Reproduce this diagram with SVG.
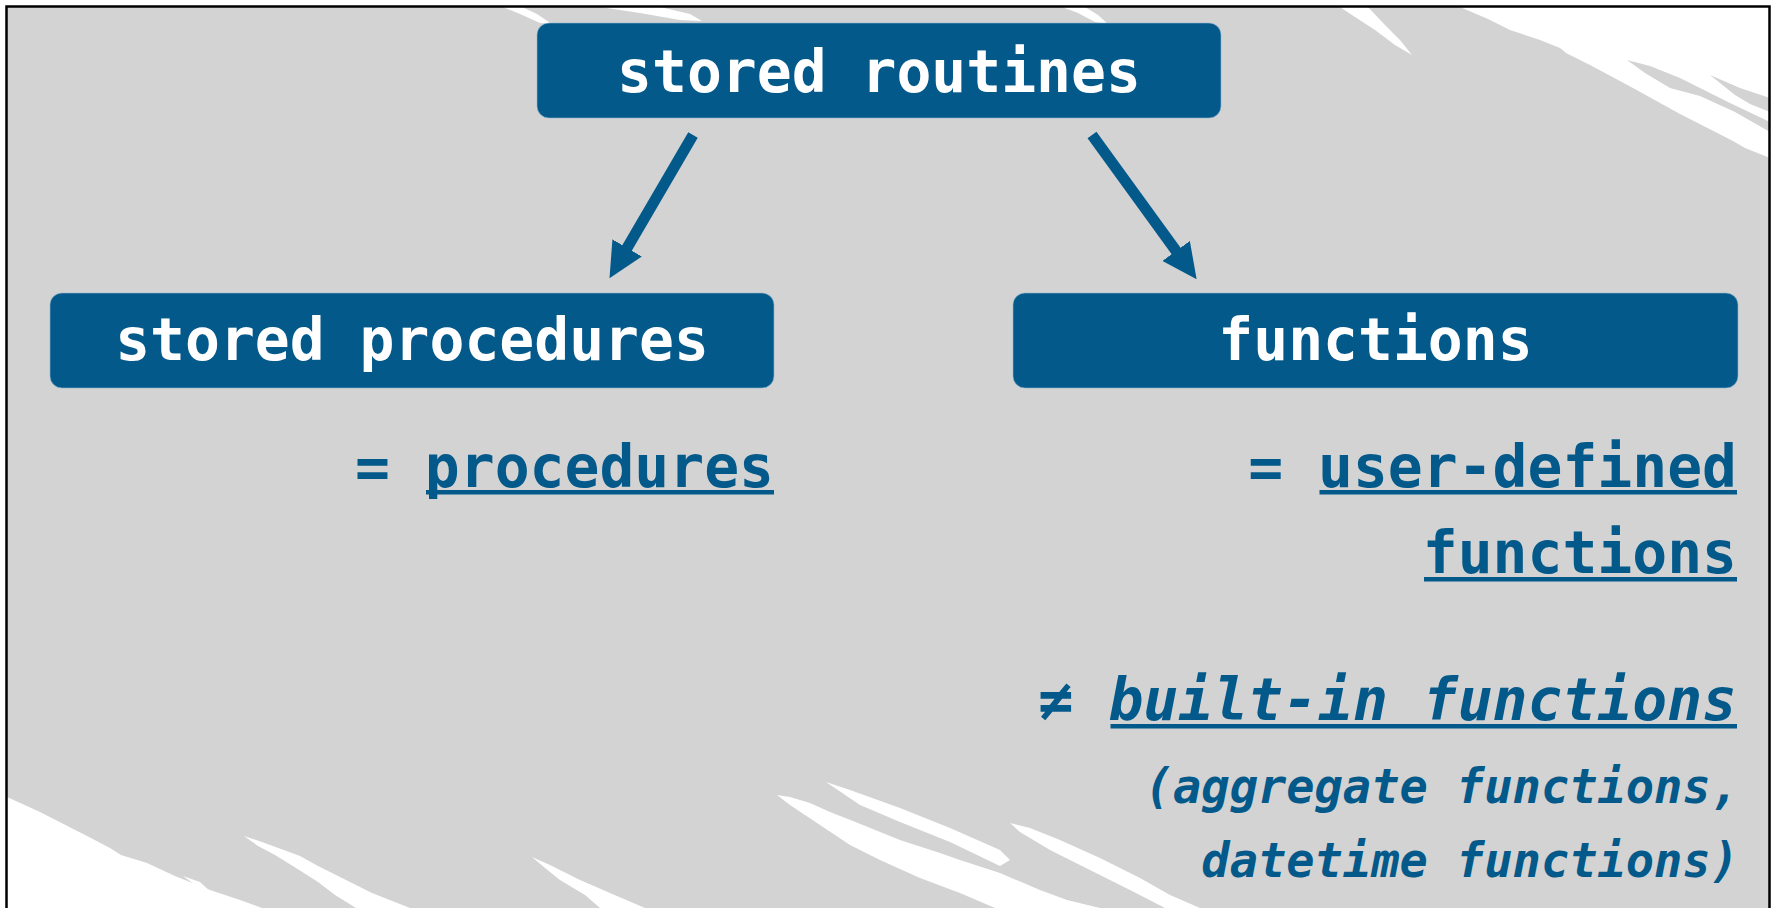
<svg xmlns="http://www.w3.org/2000/svg" width="1773" height="908" viewBox="0 0 1773 908">
  <defs>
    <style>
      .bg { fill: #d3d3d3; }
      .wh { fill: #ffffff; }
      .gr { fill: #d3d3d3; }
      .box { fill: #03598a; stroke: #8fb4cf; stroke-width: 1; stroke-opacity: 0.6; }
      .boxtxt { font-family: "DejaVu Sans Mono", "Liberation Mono", monospace; font-weight: bold; font-size: 58px; fill: #ffffff; text-anchor: middle; }
      .txt { font-family: "DejaVu Sans Mono", "Liberation Mono", monospace; font-weight: bold; font-size: 58px; fill: #03598a; text-anchor: end; }
      .it { font-family: "DejaVu Sans Mono", "Liberation Mono", monospace; font-weight: bold; font-style: italic; fill: #03598a; text-anchor: end; }
      .ul { fill: #03598a; }
      .conn { stroke: #03598a; stroke-width: 11; fill: none; stroke-linecap: butt; }
    </style>
    <marker id="head" markerUnits="userSpaceOnUse" viewBox="0 0 35 34" markerWidth="35" markerHeight="34" refX="6" refY="17" orient="auto">
      <path d="M0,0 L35,17 L0,34 Z" fill="#03598a"/>
    </marker>
  </defs>

  <!-- background -->
  <g id="background">
    <rect x="0" y="0" width="1773" height="908" fill="#ffffff"/>
    <rect class="bg" x="6.5" y="6.5" width="1763" height="910"/>
    <!-- top-right white area -->
    <polygon class="wh" points="1460,7 1770,7 1770,158 1745,148 1733,141 1680,114 1633,88 1590,65 1566,53 1560,48 1540,40 1510,30 1488,19"/>
    <polygon class="gr" points="1627,60 1650,66 1680,78 1700,88 1730,103 1770,122 1770,132 1735,112 1700,96 1670,88 1645,73"/>
    <polygon class="gr" points="1710,75 1740,88 1770,98 1770,112 1750,104 1735,95"/>
    <!-- top streaks -->
    <polygon class="wh" points="503,7 522,7 537,14 552,24 540,23 520,14"/>
    <polygon class="wh" points="600,7 660,7 690,14 702,21 680,20 640,13"/>
    <polygon class="wh" points="1062,7 1085,7 1098,15 1108,24 1095,22 1078,13"/>
    <polygon class="wh" points="1340,7 1368,7 1385,25 1400,40 1412,55 1395,45 1375,30 1355,17"/>
    <!-- bottom-left white area -->
    <polygon class="wh" points="7,797 40,812 89,837 110,848 121,855 147,863 175,876 210,890 240,900 262,908 7,908"/>
    <polygon class="wh" points="183,876 200,882 212,893 205,892"/>
    <!-- bottom streaks -->
    <polygon class="wh" points="244,836 262,842 300,856 318,866 350,882 372,893 410,908 356,908 335,895 318,882 296,868 275,855 258,846"/>
    <polygon class="wh" points="532,857 550,865 580,880 610,893 645,908 600,908 585,895 560,880 545,868"/>
    <polygon class="wh" points="777,795 790,797 810,803 830,812 853,821 900,840 940,853 960,860 1000,873 1040,890 1067,900 1100,908 995,908 960,893 920,878 880,860 850,845 820,825 805,815 790,805"/>
    <polygon class="wh" points="826,782 850,790 900,808 950,828 1000,850 1010,860 1000,866 950,842 900,822 860,805"/>
    <polygon class="wh" points="1010,823 1030,828 1060,840 1100,858 1140,878 1170,895 1200,908 1165,908 1130,890 1090,870 1050,850 1020,832"/>
    <!-- frame -->
    <rect x="6.5" y="6.5" width="1763" height="910" fill="none" stroke="#000000" stroke-width="2.5"/>
  </g>

  <!-- connectors -->
  <g id="connectors">
    <line class="conn" x1="693" y1="135" x2="624.1" y2="253.1" marker-end="url(#head)"/>
    <line class="conn" x1="1092" y1="135" x2="1179.6" y2="255.8" marker-end="url(#head)"/>
  </g>

  <g id="node-stored-routines">
    <rect class="box" x="537" y="23" width="684" height="95" rx="12"/>
    <text class="boxtxt" x="879" y="92">stored routines</text>
  </g>

  <g id="node-stored-procedures">
    <rect class="box" x="50" y="293" width="724" height="95" rx="12"/>
    <text class="boxtxt" x="412" y="360">stored procedures</text>
  </g>

  <g id="node-functions">
    <rect class="box" x="1013" y="293" width="725" height="95" rx="12"/>
    <text class="boxtxt" x="1375.5" y="360">functions</text>
  </g>

  <g id="note-procedures">
    <text class="txt" x="774" y="487">= procedures</text>
    <rect class="ul" x="426" y="490" width="348" height="4.5"/>
  </g>

  <g id="note-functions">
    <text class="txt" x="1737" y="487">= user-defined</text>
    <rect class="ul" x="1319.5" y="490" width="417.5" height="4.5"/>
    <text class="txt" x="1737" y="573">functions</text>
    <rect class="ul" x="1424" y="577" width="313" height="4.5"/>
    <text class="it" x="1737" y="720" font-size="58">≠ built-in functions</text>
    <rect class="ul" x="1110.5" y="724" width="626.5" height="4.5"/>
    <text class="it" x="1739" y="803" font-size="47">(aggregate functions,</text>
    <text class="it" x="1739" y="877" font-size="47">datetime functions)</text>
  </g>
</svg>
